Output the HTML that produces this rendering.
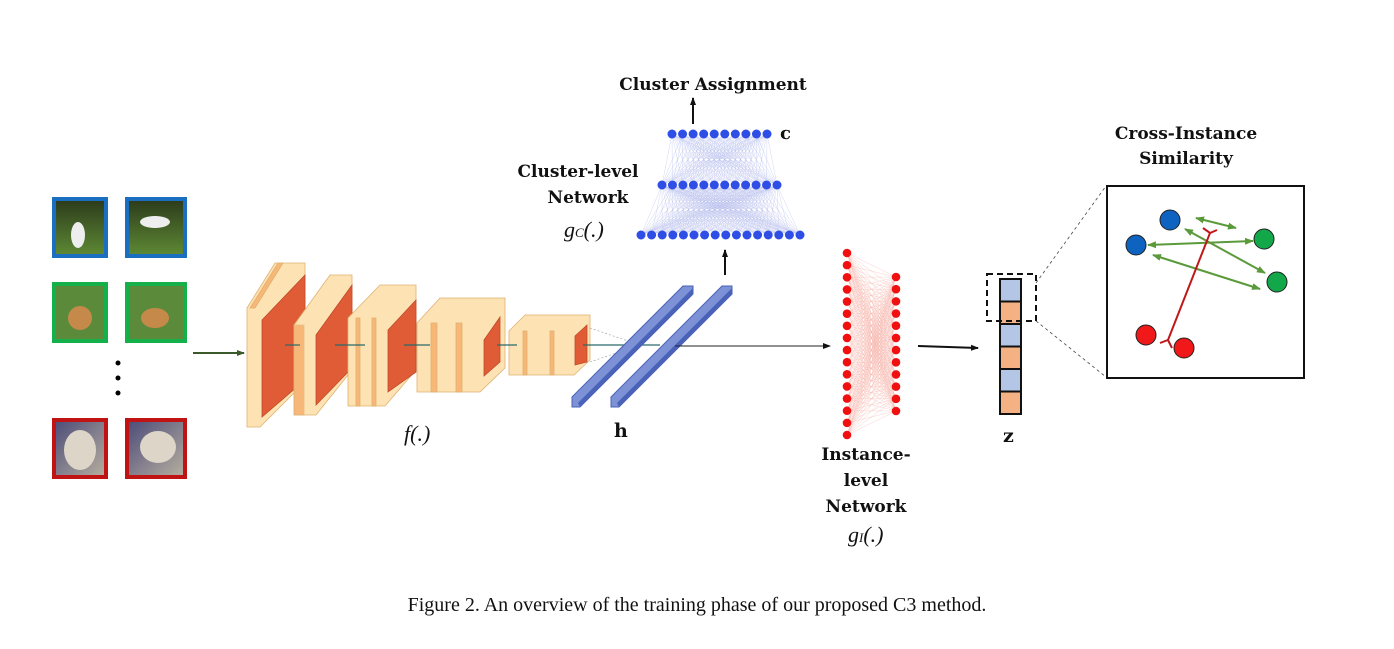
<!DOCTYPE html>
<html><head><meta charset="utf-8"><style>
body{margin:0;background:#fff;width:1394px;height:644px;overflow:hidden}
text{font-family:"DejaVu Serif","Liberation Serif",serif;fill:#111}
.b{font-weight:bold}
.i{font-style:italic;font-family:"Liberation Serif",serif}
</style></head><body>
<svg width="1394" height="644" viewBox="0 0 1394 644" xmlns="http://www.w3.org/2000/svg">
<defs>
<marker id="ah" markerWidth="8" markerHeight="8" refX="7" refY="4" orient="auto" markerUnits="userSpaceOnUse"><path d="M0,1 L8,4 L0,7z" fill="#111"/></marker>
<marker id="ag" markerWidth="8" markerHeight="8" refX="7" refY="4" orient="auto" markerUnits="userSpaceOnUse"><path d="M0,1 L8,4 L0,7z" fill="#3a5a2a"/></marker>
<marker id="gr" markerWidth="9" markerHeight="9" refX="8" refY="4.5" orient="auto-start-reverse" markerUnits="userSpaceOnUse"><path d="M0,1 L9,4.5 L0,8z" fill="#5a9a3a"/></marker>
<linearGradient id="grass" x1="0" y1="0" x2="0" y2="1"><stop offset="0" stop-color="#2c3a1c"/><stop offset="1" stop-color="#5e8a34"/></linearGradient>
<linearGradient id="cat" x1="0" y1="0" x2="1" y2="1"><stop offset="0" stop-color="#4a4a78"/><stop offset="1" stop-color="#b8b0a0"/></linearGradient>
</defs>

<g stroke-width="4">
<rect x="54" y="199" width="52" height="57" fill="url(#grass)" stroke="#1b6fc0"/>
<ellipse cx="78" cy="235" rx="7" ry="13" fill="#eee"/>
<rect x="127" y="199" width="58" height="57" fill="url(#grass)" stroke="#1b6fc0"/>
<ellipse cx="155" cy="222" rx="15" ry="6" fill="#eee"/>
<rect x="54" y="284" width="52" height="57" fill="#5a8a3a" stroke="#16b04a"/>
<ellipse cx="80" cy="318" rx="12" ry="12" fill="#c58a4a"/>
<rect x="127" y="284" width="58" height="57" fill="#5a8a3a" stroke="#16b04a"/>
<ellipse cx="155" cy="318" rx="14" ry="10" fill="#c58a4a"/>
<rect x="54" y="420" width="52" height="57" fill="url(#cat)" stroke="#c01414"/>
<ellipse cx="80" cy="450" rx="16" ry="20" fill="#ddd6c8"/>
<rect x="127" y="420" width="58" height="57" fill="url(#cat)" stroke="#c01414"/>
<ellipse cx="158" cy="447" rx="18" ry="16" fill="#ddd6c8"/>
</g>
<circle cx="118" cy="363" r="2.5" fill="#000"/><circle cx="118" cy="378" r="2.5" fill="#000"/><circle cx="118" cy="393" r="2.5" fill="#000"/>
<line x1="193" y1="353" x2="244" y2="353" stroke="#3a5a2a" stroke-width="2" marker-end="url(#ag)"/>

<g stroke="#e0b070" stroke-width="0.8">
<polygon points="247,308 275,263 305,263 305,382 260,427 247,427" fill="#fde3b4"/>
<polygon points="250,308 278,263 283,263 255,308" fill="#f7b777"/>
<polygon points="262,320 305,275 305,380 262,417" fill="#e05c36" stroke="#c04a28"/>
<polygon points="294,325 330,275 352,275 352,370 316,415 294,415" fill="#fde3b4"/>
<rect x="294" y="325" width="10" height="90" fill="#f4a55f" opacity=".7"/>
<polygon points="316,335 352,285 352,368 316,405" fill="#e05c36" stroke="#c04a28"/>
<polygon points="348,318 380,285 416,285 416,370 385,406 348,406" fill="#fde3b4"/>
<rect x="356" y="318" width="4" height="88" fill="#f7b777"/>
<rect x="372" y="318" width="4" height="88" fill="#f7b777"/>
<polygon points="388,330 416,300 416,372 388,392" fill="#e05c36" stroke="#c04a28"/>
<polygon points="417,323 440,298 505,298 505,368 480,392 417,392" fill="#fde3b4"/>
<rect x="431" y="323" width="6" height="69" fill="#f7b777"/>
<rect x="456" y="323" width="6" height="69" fill="#f7b777"/>
<polygon points="484,340 500,317 500,362 484,376" fill="#e05c36" stroke="#c04a28"/>
<polygon points="509,331 525,315 590,315 590,360 574,375 509,375" fill="#fde3b4"/>
<rect x="523" y="331" width="4" height="44" fill="#f7b777"/>
<rect x="550" y="331" width="4" height="44" fill="#f7b777"/>
<polygon points="575,336 587,325 587,362 575,365" fill="#e05c36" stroke="#c04a28"/>
</g>
<g stroke="#2a6a6a" stroke-width="1.2">
<line x1="285" y1="345" x2="300" y2="345"/><line x1="335" y1="345" x2="365" y2="345"/>
<line x1="404" y1="345" x2="430" y2="345"/><line x1="497" y1="345" x2="517" y2="345"/>
<line x1="583" y1="345" x2="660" y2="345"/>
</g>
<g stroke="#999" stroke-width="0.6" stroke-dasharray="2,2">
<line x1="590" y1="328" x2="628" y2="341"/><line x1="590" y1="362" x2="628" y2="349"/>
</g>
<polygon points="572,397 683,286 693,286 693,294 580,407 572,407" fill="#7d92d6" stroke="#4a62b8"/>
<polygon points="578,403 693,288 693,294 580,407" fill="#4a62b8"/>
<polygon points="611,397 722,286 732,286 732,294 619,407 611,407" fill="#7d92d6" stroke="#4a62b8"/>
<polygon points="617,403 732,288 732,294 619,407" fill="#4a62b8"/>
<line x1="675" y1="346" x2="830" y2="346" stroke="#222" stroke-width="1" marker-end="url(#ah)"/>
<text class="b" x="614" y="437" font-size="19">h</text>
<text class="i" x="404" y="441" font-size="22">f(.)</text>

<g id="clines" stroke="#6a78d8" stroke-width="0.3" opacity="0.5"></g>
<g id="cdots" fill="#2f4ee6"></g>
<line x1="725" y1="275" x2="725" y2="250" stroke="#111" stroke-width="2" marker-end="url(#ah)"/>
<line x1="693" y1="124" x2="693" y2="98" stroke="#111" stroke-width="2" marker-end="url(#ah)"/>
<text class="b" x="713" y="90" font-size="17" text-anchor="middle">Cluster Assignment</text>
<text class="b" x="780" y="139" font-size="18">c</text>
<text class="b" x="578" y="177" font-size="17" text-anchor="middle">Cluster-level</text>
<text class="b" x="588" y="203" font-size="17" text-anchor="middle">Network</text>
<text class="i" x="564" y="237" font-size="22">g<tspan font-size="13">C</tspan>(.)</text>

<g id="ilines" stroke="#f08070" stroke-width="0.3" opacity="0.6"></g>
<g id="idots" fill="#f01010"></g>
<text class="b" x="866" y="460" font-size="17" text-anchor="middle">Instance-</text>
<text class="b" x="866" y="486" font-size="17" text-anchor="middle">level</text>
<text class="b" x="866" y="512" font-size="17" text-anchor="middle">Network</text>
<text class="i" x="848" y="542" font-size="22">g<tspan font-size="13">I</tspan>(.)</text>
<line x1="918" y1="346" x2="978" y2="348" stroke="#111" stroke-width="2" marker-end="url(#ah)"/>

<g stroke="#111" stroke-width="2">
<rect x="1000" y="279" width="21" height="22.5" fill="#b4c6e6"/>
<rect x="1000" y="301.5" width="21" height="22.5" fill="#f4b183"/>
<rect x="1000" y="324" width="21" height="22.5" fill="#b4c6e6"/>
<rect x="1000" y="346.5" width="21" height="22.5" fill="#f4b183"/>
<rect x="1000" y="369" width="21" height="22.5" fill="#b4c6e6"/>
<rect x="1000" y="391.5" width="21" height="22.5" fill="#f4b183"/>
</g>
<rect x="987" y="274" width="49" height="47" fill="none" stroke="#111" stroke-width="2" stroke-dasharray="6,4"/>
<line x1="1036" y1="283" x2="1106" y2="186" stroke="#444" stroke-width="0.8" stroke-dasharray="3,3"/>
<line x1="1036" y1="321" x2="1106" y2="377" stroke="#444" stroke-width="0.8" stroke-dasharray="3,3"/>
<text class="b" x="1003" y="442" font-size="19">z</text>

<rect x="1107" y="186" width="197" height="192" fill="#fff" stroke="#111" stroke-width="2"/>
<text class="b" x="1186" y="139" font-size="17" text-anchor="middle">Cross-Instance</text>
<text class="b" x="1186" y="164" font-size="17" text-anchor="middle">Similarity</text>
<g stroke="#5a9a3a" stroke-width="2">
<line x1="1196" y1="218" x2="1236" y2="228" marker-start="url(#gr)" marker-end="url(#gr)"/>
<line x1="1148" y1="245" x2="1253" y2="241" marker-start="url(#gr)" marker-end="url(#gr)"/>
<line x1="1185" y1="229" x2="1265" y2="273" marker-end="url(#gr)" marker-start="url(#gr)"/>
<line x1="1153" y1="255" x2="1260" y2="289" marker-start="url(#gr)" marker-end="url(#gr)"/>
</g>
<g stroke="#c01818" stroke-width="2" fill="none">
<line x1="1210" y1="233" x2="1168" y2="340"/>
<path d="M1203,228 L1210,233 L1217,230"/>
<path d="M1160,343 L1168,340 L1172,348"/>
</g>
<g stroke="#222" stroke-width="1">
<circle cx="1170" cy="220" r="10" fill="#0e63c0"/>
<circle cx="1136" cy="245" r="10" fill="#0e63c0"/>
<circle cx="1264" cy="239" r="10" fill="#12a84a"/>
<circle cx="1277" cy="282" r="10" fill="#12a84a"/>
<circle cx="1146" cy="335" r="10" fill="#f01818"/>
<circle cx="1184" cy="348" r="10" fill="#f01818"/>
</g>

<text x="697" y="611" font-size="20" text-anchor="middle" style="font-family:'Liberation Serif',serif">Figure 2. An overview of the training phase of our proposed C3 method.</text>
</svg>
<script>
const NS="http://www.w3.org/2000/svg";
function row(n,x0,x1,y){const a=[];for(let i=0;i<n;i++)a.push([x0+(x1-x0)*i/(n-1),y]);return a;}
function col(n,y0,y1,x){const a=[];for(let i=0;i<n;i++)a.push([x,y0+(y1-y0)*i/(n-1)]);return a;}
function conn(g,A,B){for(const a of A)for(const b of B){const l=document.createElementNS(NS,"line");l.setAttribute("x1",a[0]);l.setAttribute("y1",a[1]);l.setAttribute("x2",b[0]);l.setAttribute("y2",b[1]);g.appendChild(l);}}
function dots(g,A,r){for(const a of A){const c=document.createElementNS(NS,"circle");c.setAttribute("cx",a[0]);c.setAttribute("cy",a[1]);c.setAttribute("r",r);g.appendChild(c);}}
const r1=row(10,672,767,134),r2=row(12,662,777,185),r3=row(16,641,800,235);
const cl=document.getElementById("clines");conn(cl,r1,r2);conn(cl,r2,r3);
const cd=document.getElementById("cdots");dots(cd,r1,4.5);dots(cd,r2,4.5);dots(cd,r3,4.5);
const c1=col(16,253,435,847),c2=col(12,277,411,896);
conn(document.getElementById("ilines"),c1,c2);
const id=document.getElementById("idots");dots(id,c1,4.3);dots(id,c2,4.3);
</script>
</body></html>
